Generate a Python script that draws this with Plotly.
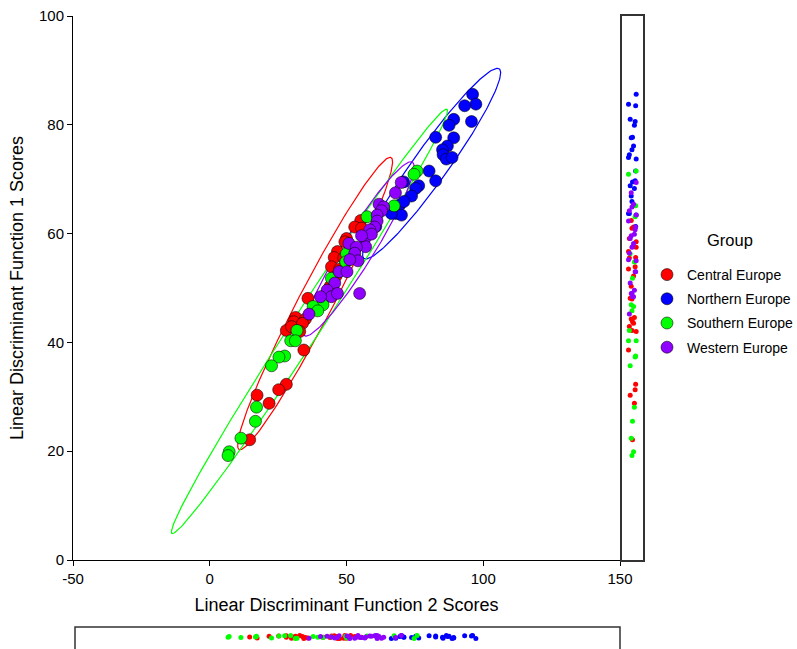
import numpy as np
import plotly.graph_objects as go

groups = ["Central Europe", "Northern Europe", "Southern Europe", "Western Europe"]

central_x = [55.2, 53.0, 55.5, 50.0, 49.4, 46.7, 45.5, 44.5, 35.9, 31.4, 30.7, 35.0, 33.9, 28.0, 29.9, 32.9, 34.4, 28.0, 25.2, 17.3, 21.7, 14.6, 44.0, 46.2, 41.5, 49.0, 51.5, 47.5]
central_y = [62.4, 61.2, 61.0, 59.1, 58.5, 56.7, 55.6, 53.9, 48.1, 44.6, 43.8, 44.3, 43.5, 42.2, 42.9, 42.0, 38.6, 32.3, 31.3, 30.3, 28.8, 22.1, 50.3, 52.2, 48.0, 55.5, 57.5, 53.5]

northern_x = [96.1, 97.3, 93.2, 95.7, 89.2, 87.5, 82.6, 89.2, 86.9, 85.1, 85.3, 86.5, 88.6, 80.2, 82.6, 76.4, 75.3, 70.9, 73.8, 69.5, 71.0, 68.0, 70.1, 66.4, 60.7]
northern_y = [85.6, 83.8, 83.5, 80.6, 81.0, 79.9, 77.7, 77.6, 76.1, 75.4, 74.5, 73.7, 74.0, 71.5, 69.7, 68.8, 68.3, 69.5, 66.9, 65.3, 65.9, 63.7, 63.4, 63.7, 61.3]

southern_x = [75.8, 74.7, 67.4, 57.5, 50.0, 49.7, 44.5, 41.4, 37.8, 39.5, 31.9, 29.6, 31.3, 27.4, 25.3, 22.6, 17.1, 16.7, 11.4, 7.1, 6.7]
southern_y = [71.5, 70.9, 65.1, 63.1, 56.3, 54.8, 51.8, 46.9, 46.6, 45.8, 42.2, 40.3, 40.3, 37.5, 37.3, 35.7, 28.1, 25.5, 22.4, 19.9, 19.2]

western_x = [67.9, 61.9, 63.6, 62.8, 61.2, 61.2, 60.3, 58.5, 56.7, 59.1, 57.0, 55.5, 50.9, 53.6, 53.0, 54.2, 51.2, 47.3, 50.2, 45.7, 42.9, 44.5, 46.7, 40.5, 54.8, 36.3, 70.0]
western_y = [67.5, 65.4, 64.9, 64.2, 63.4, 62.3, 61.2, 60.7, 59.1, 59.9, 57.6, 59.6, 58.2, 57.5, 56.4, 55.0, 55.2, 53.0, 53.0, 50.9, 49.6, 48.4, 49.0, 48.4, 49.0, 45.2, 69.4]

x_ticks = [-50, 0, 50, 100, 150]
x_tick_labels = ["-50", "0", "50", "100", "150"]
y_ticks = [0, 20, 40, 60, 80, 100]

data = {
    "Central Europe": (central_x, central_y),
    "Northern Europe": (northern_x, northern_y),
    "Southern Europe": (southern_x, southern_y),
    "Western Europe": (western_x, western_y),
}
colors = {
    "Central Europe": "#FF0000",
    "Northern Europe": "#0000FF",
    "Southern Europe": "#00FF00",
    "Western Europe": "#8F00FF",
}

FONT = "Arial, Liberation Sans, sans-serif"
W, H = 797, 649
x_left, x_right = 73, 620
y_top, y_bot = 16, 560
xd = [x_left / W, x_right / W]
yd = [1 - y_bot / H, 1 - y_top / H]
rs_left, rs_right = 622, 643
bs_top = 627


def ellipse(xs, ys, k=2.4477, n=240):
    X = np.column_stack([xs, ys]).astype(float)
    m = X.mean(axis=0)
    C = np.cov(X.T)
    vals, vecs = np.linalg.eigh(C)
    t = np.linspace(0, 2 * np.pi, n)
    circ = np.column_stack([np.cos(t), np.sin(t)]) * (k * np.sqrt(vals))
    pts = m + circ @ vecs.T
    return pts[:, 0], pts[:, 1]


fig = go.Figure()

for g in groups:
    xs, ys = data[g]
    ex, ey = ellipse(xs, ys)
    fig.add_trace(go.Scatter(x=ex, y=ey, mode="lines", line=dict(color=colors[g], width=1.2),
                             showlegend=False, hoverinfo="skip", xaxis="x", yaxis="y"))

for g in groups:
    xs, ys = data[g]
    fig.add_trace(go.Scatter(x=xs, y=ys, mode="markers", name=g, legendgroup=g,
                             marker=dict(size=12, color=colors[g],
                                         line=dict(color="rgba(0,0,0,0.55)", width=1)),
                             xaxis="x", yaxis="y", cliponaxis=False))

pattern = [0.0, -0.3, 0.25, -0.12, 0.35, -0.22, 0.1, -0.38, 0.18, -0.05, 0.3]
for g in groups:
    xs, ys = data[g]
    jit = [pattern[(i * 3 + len(g)) % len(pattern)] for i in range(len(xs))]
    fig.add_trace(go.Scatter(x=jit, y=ys, mode="markers", showlegend=False, hoverinfo="skip",
                             marker=dict(size=5, color=colors[g]), xaxis="x2", yaxis="y2"))
    fig.add_trace(go.Scatter(x=xs, y=[12 + 4 * j for j in jit], mode="markers", showlegend=False,
                             hoverinfo="skip", marker=dict(size=5, color=colors[g]),
                             xaxis="x3", yaxis="y3"))

axfont = dict(family=FONT, size=15, color="black")
fig.update_layout(
    width=W, height=H,
    margin=dict(l=0, r=0, t=0, b=0, autoexpand=False),
    paper_bgcolor="white", plot_bgcolor="white",
    font=dict(family=FONT, color="black"),
    xaxis=dict(domain=xd, range=[-50, 150], tickvals=x_ticks, ticktext=x_tick_labels,
               showgrid=False, zeroline=False,
               showline=True, linecolor="black", linewidth=1, ticks="outside", ticklen=5,
               tickcolor="black", tickfont=axfont, anchor="y", automargin=False,
               title=dict(text="Linear Discriminant Function 2 Scores",
                          font=dict(family=FONT, size=18, color="black"), standoff=12)),
    yaxis=dict(domain=yd, range=[0, 100], tickvals=y_ticks, showgrid=False, zeroline=False,
               showline=True, linecolor="black", linewidth=1, ticks="outside", ticklen=5,
               tickcolor="black", tickfont=axfont, anchor="x", automargin=False,
               title=dict(text="Linear Discriminant Function 1 Scores",
                          font=dict(family=FONT, size=18, color="black"), standoff=10)),
    xaxis2=dict(domain=[rs_left / W, rs_right / W], range=[-1, 1], showgrid=False, zeroline=False,
                showticklabels=False, ticks="", showline=True, mirror=True, linecolor="#333",
                linewidth=1.5, anchor="y2"),
    yaxis2=dict(domain=yd, range=[0, 100], showgrid=False, zeroline=False, showticklabels=False,
                ticks="", showline=True, mirror=True, linecolor="#333", linewidth=1.5, anchor="x2"),
    xaxis3=dict(domain=[75 / W, x_right / W], range=[-50 + 2 / 2.735, 150], showgrid=False,
                zeroline=False, showticklabels=False, ticks="", showline=False, anchor="y3"),
    yaxis3=dict(domain=[0, (H - bs_top) / H], range=[0, H - bs_top], showgrid=False,
                zeroline=False, showticklabels=False, ticks="", showline=False, anchor="x3"),
    shapes=[dict(type="rect", xref="paper", yref="paper", x0=75 / W, x1=x_right / W,
                 y0=-0.05, y1=(H - bs_top) / H, line=dict(color="#333", width=1.5),
                 fillcolor="rgba(0,0,0,0)")],
    annotations=[dict(text="Group", xref="paper", yref="paper", x=730 / W, y=1 - 240 / H,
                      xanchor="center", yanchor="middle", showarrow=False,
                      font=dict(family=FONT, size=16.5, color="black"))],
    legend=dict(x=647 / W, y=1 - 259 / H, xanchor="left", yanchor="top",
                font=dict(family=FONT, size=14, color="black"),
                traceorder="grouped", tracegroupgap=3, bgcolor="rgba(0,0,0,0)"),
)

fig.write_html("out.html", config={"displayModeBar": False},
               post_script="document.body.style.margin='0px';document.body.style.overflow='hidden';")
